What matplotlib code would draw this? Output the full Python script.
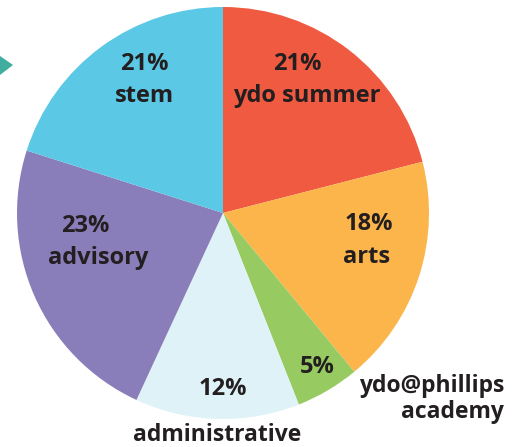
import matplotlib
matplotlib.use("Agg")
import matplotlib.pyplot as plt
from matplotlib.patches import Polygon

# slices, clockwise from 12 o'clock
categories = ["ydo summer", "arts", "ydo@phillips\nacademy", "administrative", "advisory", "stem"]
pct_labels = ["21%", "18%", "5%", "12%", "23%", "21%"]
shares     = [21, 18, 5, 12.9, 23, 20.1]   # wedge sizes as drawn
colors     = ["#EF5A40", "#FBB54A", "#97CB62", "#DFF2F8", "#8A7EBA", "#5BC8E6"]

W, H = 512, 447
fig = plt.figure(figsize=(W / 100, H / 100), dpi=100)
ax = fig.add_axes([0, 0, 1, 1])

cx, cy, r = 223, H - 213, 206
ax.pie(shares, colors=colors, startangle=90, counterclock=False,
       center=(cx, cy), radius=r, wedgeprops=dict(linewidth=0))
ax.set_xlim(0, W)
ax.set_ylim(0, H)
ax.set_aspect("equal")
ax.axis("off")

# little teal pointer at the left edge
ax.add_patch(Polygon([(0, H - 56), (13, H - 65), (0, H - 75)],
                     closed=True, color="#3FAE9E", lw=0))

txt = dict(fontsize=17, fontweight="bold", color="#231F20",
           family=["Open Sans", "DejaVu Sans"], va="center")

# (x of percent, y of percent, x of name, y of name) in image pixels
inside = {
    "stem":       (144, 64, 144, 96),
    "ydo summer": (297, 64, 307, 96),
    "arts":       (369, 224, 367, 257),
    "advisory":   (85, 226, 98, 258),
}
for name, (x1, y1, x2, y2) in inside.items():
    i = categories.index(name)
    ax.text(x1, H - y1, pct_labels[i], ha="center", **txt)
    ax.text(x2, H - y2, name, ha="center", **txt)

ax.text(223, H - 389, pct_labels[3], ha="center", **txt)
ax.text(317, H - 367, pct_labels[2], ha="center", **txt)
small = dict(txt, fontsize=16.5)
ax.text(217, H - 435, categories[3], ha="center", **small)
ax.text(504, H - 399, categories[2], ha="right", linespacing=1.15, **small)

fig.savefig("out.png", dpi=100)
